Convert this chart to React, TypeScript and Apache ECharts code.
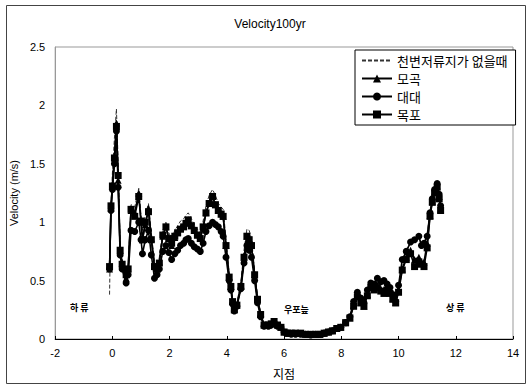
import React, { useEffect, useRef } from "react";
import * as echarts from "echarts";

const seriesNames = ["천변저류지가 없을때", "모곡", "대대", "목포"];
const xTicks = [-2, 0, 2, 4, 6, 8, 10, 12, 14];

const xs = [
  -0.1, -0.05, 0.0, 0.07, 0.14, 0.2, 0.27, 0.34, 0.48, 0.55,
  0.65, 0.78, 0.92, 1.0, 1.05, 1.15, 1.26, 1.36, 1.47, 1.56,
  1.64, 1.76, 1.87, 1.97, 2.07, 2.18, 2.28, 2.38, 2.49, 2.57,
  2.65, 2.76, 2.86, 2.97, 3.07, 3.17, 3.27, 3.38, 3.5, 3.6,
  3.7, 3.8, 3.87, 3.97, 4.08, 4.14, 4.2, 4.26, 4.35, 4.49,
  4.6, 4.7, 4.78, 4.86, 4.97, 5.07, 5.18, 5.3, 5.45, 5.55,
  5.65, 5.77, 5.89, 6.0, 6.12, 6.25, 6.4, 6.58, 6.75, 6.93,
  7.1, 7.25, 7.4, 7.55, 7.69, 7.84, 7.98, 8.15, 8.3, 8.43,
  8.56, 8.68, 8.79, 8.91, 9.03, 9.15, 9.26, 9.38, 9.49, 9.6,
  9.7, 9.8, 9.9, 10.0, 10.13, 10.27, 10.42, 10.56, 10.71, 10.8,
  10.89, 11.0, 11.1, 11.18, 11.26, 11.35, 11.42, 11.47,
];

const noStorage = [
  0.38, 1.15, 1.42, 1.72, 1.97, 1.52, 0.8, 0.68, 0.55, 0.62,
  1.15, 1.13, 1.29, 1.06, 0.93, 1.06, 1.16, 0.91, 0.66, 0.62,
  0.7, 0.93, 1.0, 0.91, 0.86, 0.93, 0.97, 1.01, 1.03, 1.06,
  1.08, 1.03, 0.98, 0.94, 0.91, 1.01, 1.14, 1.23, 1.28, 1.23,
  1.16, 1.13, 1.11, 0.86, 0.57, 0.47, 0.34, 0.26, 0.31, 0.49,
  0.76, 0.94, 0.93, 0.86, 0.59, 0.37, 0.22, 0.12, 0.12, 0.13,
  0.15, 0.12, 0.1, 0.06, 0.05, 0.05, 0.05, 0.05, 0.04, 0.04,
  0.04, 0.04, 0.05, 0.06, 0.07, 0.09, 0.1, 0.14, 0.19, 0.31,
  0.4, 0.34, 0.3, 0.41, 0.49, 0.47, 0.52, 0.48, 0.5, 0.46,
  0.43, 0.37, 0.32, 0.44, 0.66, 0.75, 0.83, 0.85, 0.88, 0.8,
  0.82, 0.9, 1.09, 1.2, 1.29, 1.34, 1.24, 1.12,
];

const mogok = [
  0.6, 1.12, 1.32, 1.55, 1.85, 1.36, 0.76, 0.65, 0.52, 0.6,
  1.1, 1.08, 1.25, 1.0, 0.85, 0.98, 1.12, 0.86, 0.62, 0.6,
  0.66, 0.88, 0.96, 0.86, 0.8, 0.87, 0.91, 0.95, 0.97, 1.0,
  1.02, 0.97, 0.93, 0.89, 0.86, 0.95, 1.08, 1.16, 1.22, 1.15,
  1.1, 1.07, 1.05, 0.8, 0.53, 0.45, 0.32, 0.25, 0.29, 0.45,
  0.7, 0.88, 0.86, 0.8, 0.55, 0.35, 0.21, 0.12, 0.12, 0.13,
  0.15, 0.12, 0.1, 0.06, 0.05, 0.05, 0.05, 0.05, 0.04, 0.04,
  0.04, 0.04, 0.05, 0.06, 0.07, 0.09, 0.1, 0.14, 0.18, 0.29,
  0.37, 0.31, 0.28, 0.38, 0.45, 0.44, 0.46, 0.43, 0.42, 0.44,
  0.4, 0.35, 0.31, 0.42, 0.6, 0.7, 0.76, 0.68, 0.7, 0.66,
  0.66, 0.82, 1.06, 1.18, 1.26, 1.31, 1.22, 1.11,
];

const daedae = [
  0.6, 1.1, 1.28, 1.5, 1.78, 1.3, 0.72, 0.6, 0.48, 0.55,
  0.93, 0.92, 1.0, 0.85, 0.73, 0.85, 0.93, 0.72, 0.52, 0.55,
  0.6, 0.75, 0.8, 0.74, 0.68, 0.73, 0.76, 0.8, 0.82, 0.85,
  0.86, 0.82, 0.79, 0.77, 0.75, 0.82, 0.92, 0.97, 1.0, 0.98,
  0.96, 0.92, 0.88, 0.7, 0.5, 0.42, 0.3, 0.24, 0.28, 0.43,
  0.65, 0.8, 0.76, 0.7, 0.5, 0.31, 0.19, 0.11, 0.11, 0.12,
  0.14, 0.11, 0.1, 0.06, 0.05, 0.04, 0.04, 0.04, 0.04, 0.035,
  0.04, 0.04, 0.05, 0.06, 0.07, 0.09, 0.1, 0.14, 0.19, 0.32,
  0.4, 0.35, 0.31, 0.42, 0.48, 0.47, 0.52, 0.49, 0.5, 0.47,
  0.44, 0.38, 0.32, 0.46, 0.68, 0.75, 0.83, 0.85, 0.88, 0.8,
  0.82, 0.88, 1.08, 1.2, 1.28, 1.33, 1.24, 1.14,
];

const mokpo = [
  0.62, 1.14, 1.31, 1.55, 1.82, 1.4, 0.76, 0.64, 0.55, 0.6,
  1.11, 1.05, 1.22, 1.01, 0.85, 1.0, 1.09, 0.85, 0.62, 0.6,
  0.65, 0.89, 0.96, 0.86, 0.82, 0.88, 0.91, 0.94, 0.96, 0.99,
  1.02, 0.97, 0.93, 0.89, 0.86, 0.96, 1.08, 1.16, 1.22, 1.15,
  1.1, 1.07, 1.05, 0.8, 0.53, 0.45, 0.32, 0.25, 0.29, 0.45,
  0.7, 0.88, 0.85, 0.8, 0.55, 0.34, 0.21, 0.12, 0.12, 0.13,
  0.15, 0.12, 0.1, 0.06, 0.05, 0.05, 0.05, 0.05, 0.04, 0.04,
  0.04, 0.04, 0.05, 0.06, 0.07, 0.09, 0.1, 0.14, 0.18, 0.28,
  0.36, 0.31, 0.28, 0.37, 0.44, 0.42, 0.44, 0.41, 0.39, 0.42,
  0.39, 0.34, 0.31, 0.4, 0.59, 0.68, 0.73, 0.62, 0.66, 0.64,
  0.62, 0.78, 1.05, 1.17, 1.25, 1.3, 1.2, 1.1,
];

const zip = (ys: number[]) => xs.map((x, i) => [x, ys[i]]);

const FONT = "'Liberation Sans', Arial, 'Noto Sans CJK KR', sans-serif";
const KFONT = "'Noto Sans CJK KR', 'Liberation Sans', sans-serif";

export default function App() {
  const ref = useRef<HTMLDivElement>(null);
  useEffect(() => {
    if (!ref.current) return;
    const chart = echarts.init(ref.current, null, { renderer: "svg" });
    const markerSeries = (name: string, data: number[], symbol: string, size: number) => ({
      name,
      type: "line",
      data: zip(data),
      symbol,
      symbolSize: size,
      showSymbol: true,
      lineStyle: { color: "#000", width: 1.6 },
      itemStyle: { color: "#000" },
      z: 3,
    });
    chart.setOption({
      animation: false,
      backgroundColor: "#fff",
      title: {
        text: "Velocity100yr",
        left: 265,
        top: 13,
        textAlign: "center",
        textStyle: { fontFamily: FONT, fontSize: 12, fontWeight: "normal", color: "#000" },
      },
      grid: {
        left: 54,
        right: 15,
        top: 47,
        bottom: 46,
        show: true,
        borderColor: "#999",
        borderWidth: 1,
        backgroundColor: "transparent",
      },
      legend: {
        data: [
          { name: seriesNames[0], itemStyle: { opacity: 0 } },
          { name: seriesNames[1] },
          { name: seriesNames[2] },
          { name: seriesNames[3] },
        ],
        orient: "vertical",
        left: 355,
        top: 50,
        padding: [4, 8, 4, 6],
        itemGap: 5,
        itemWidth: 30,
        itemHeight: 10,
        borderColor: "#000",
        borderWidth: 1,
        backgroundColor: "#fff",
        textStyle: { fontFamily: KFONT, fontSize: 13, color: "#000", lineHeight: 13 },
      },
      xAxis: {
        type: "value",
        min: -2,
        max: 14,
        interval: 2,
        name: "지점",
        nameLocation: "middle",
        nameGap: 28,
        nameTextStyle: { fontFamily: KFONT, fontSize: 12, color: "#000" },
        axisLine: { show: true, onZero: false, lineStyle: { color: "#000", width: 1 } },
        axisTick: { show: true, inside: true, length: 3, lineStyle: { color: "#000" } },
        axisLabel: {
          fontFamily: FONT,
          fontSize: 11,
          color: "#000",
          margin: 8,
          formatter: (v: number) => (xTicks.includes(v) ? String(v) : ""),
        },
        splitLine: { show: false },
      },
      yAxis: {
        type: "value",
        min: 0,
        max: 2.5,
        interval: 0.5,
        name: "Velocity (m/s)",
        nameLocation: "middle",
        nameGap: 28,
        nameTextStyle: { fontFamily: FONT, fontSize: 11, color: "#000" },
        axisLine: { show: true, onZero: false, lineStyle: { color: "#999", width: 1 } },
        axisTick: { show: false },
        axisLabel: { fontFamily: FONT, fontSize: 11, color: "#000", margin: 10 },
        splitLine: { show: false },
      },
      series: [
        {
          name: seriesNames[0],
          type: "line",
          data: zip(noStorage),
          symbol: "none",
          showSymbol: false,
          lineStyle: { color: "#333", width: 1, type: [4, 2] },
          itemStyle: { color: "#333" },
          z: 2,
        },
        markerSeries(seriesNames[1], mogok, "triangle", 7),
        markerSeries(seriesNames[2], daedae, "circle", 7),
        markerSeries(seriesNames[3], mokpo, "rect", 7),
      ],
      graphic: [
        {
          type: "rect",
          left: 4,
          top: 3,
          shape: { width: 519, height: 378 },
          style: { fill: "none", stroke: "#444", lineWidth: 1 },
          silent: true,
          z: -10,
        },
        {
          type: "text",
          left: 70,
          top: 303,
          style: { text: "하 류", font: `bold 9px ${KFONT}`, fill: "#000" },
        },
        {
          type: "text",
          left: 284,
          top: 305,
          style: { text: "우포늪", font: `bold 9px ${KFONT}`, fill: "#000" },
        },
        {
          type: "text",
          left: 446,
          top: 303,
          style: { text: "상 류", font: `bold 9px ${KFONT}`, fill: "#000" },
        },
      ],
    });
    return () => chart.dispose();
  }, []);
  return (
    <div
      ref={ref}
      style={{ position: "fixed", left: 0, top: 0, width: 528, height: 385, background: "#fff" }}
    />
  );
}
